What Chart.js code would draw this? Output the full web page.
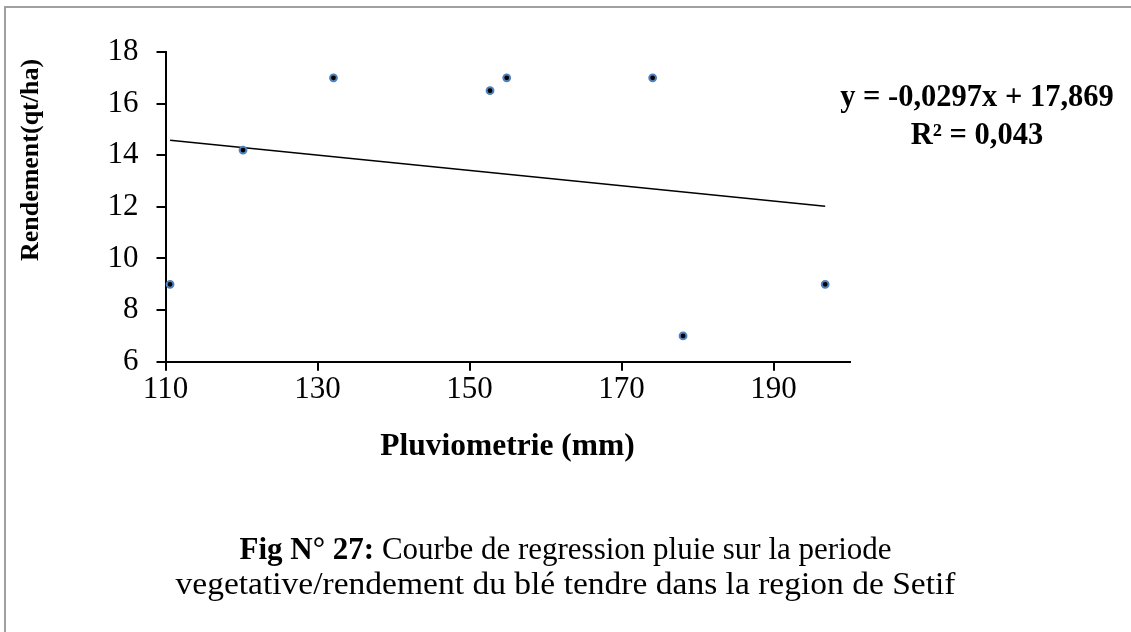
<!DOCTYPE html>
<html><head><meta charset="utf-8">
<script src="https://cdn.jsdelivr.net/npm/chart.js@4.4.0/dist/chart.umd.min.js"></script>
<style>html,body{margin:0;padding:0;background:#fff;overflow:hidden;} #wrap{width:1131px;height:632px;position:relative;}</style>
</head><body><div id="wrap"><canvas id="c" width="1131" height="632"></canvas></div>
<script>
const pluviometrie = [110.6, 120.2, 132.1, 152.7, 154.9, 174.1, 178.1, 196.8];
const rendement = [9, 14.2, 17, 16.5, 17, 17, 7, 9];
const trendX = [110.6, 196.8];
const trendY = [14.58, 12.02];
const xTicks = [110, 130, 150, 170, 190];
const yTicks = [6, 8, 10, 12, 14, 16, 18];
const xRange = [110, 200];
const yRange = [6, 18];
const equationLines = ['y = -0,0297x + 17,869', 'R² = 0,043'];
const captionBold = 'Fig N° 27:';
const captionLine1 = ' Courbe de regression pluie sur la periode';
const captionLine2 = 'vegetative/rendement du blé tendre dans la region de Setif';
const xTitle = 'Pluviometrie (mm)';
const yTitle = 'Rendement(qt/ha)';

const SERIF = '"Liberation Serif", "Times New Roman", serif';

const decorPlugin = {
  id: 'decor',
  afterDraw(chart) {
    const ctx = chart.ctx;
    ctx.save();
    // frame (top & left visible)
    ctx.strokeStyle = '#a0a0a0';
    ctx.lineWidth = 2;
    ctx.beginPath();
    ctx.moveTo(5, 640); ctx.lineTo(5, 7); ctx.lineTo(1140, 7);
    ctx.stroke();
    ctx.fillStyle = '#000';
    // y axis title
    ctx.save();
    ctx.translate(31, 160);
    ctx.rotate(-Math.PI / 2);
    ctx.font = 'bold 26px ' + SERIF;
    ctx.textAlign = 'center';
    ctx.textBaseline = 'middle';
    ctx.fillText(yTitle, 0, 0);
    ctx.restore();
    // equation
    ctx.font = 'bold 30.5px ' + SERIF;
    ctx.textAlign = 'center';
    ctx.textBaseline = 'alphabetic';
    ctx.fillText(equationLines[0], 977, 106);
    ctx.fillText(equationLines[1], 977, 144);
    // caption
    const cx = 565.5;
    const fs = 31;
    ctx.textAlign = 'left';
    ctx.font = 'bold ' + fs + 'px ' + SERIF;
    const wb = ctx.measureText(captionBold).width;
    ctx.font = fs + 'px ' + SERIF;
    const wr = ctx.measureText(captionLine1).width;
    const x0 = cx - (wb + wr) / 2;
    ctx.font = 'bold ' + fs + 'px ' + SERIF;
    ctx.fillText(captionBold, x0, 559);
    ctx.font = fs + 'px ' + SERIF;
    ctx.fillText(captionLine1, x0 + wb, 559);
    ctx.save();
    const w2 = ctx.measureText(captionLine2).width;
    const s2 = 780 / w2;
    ctx.translate(cx, 594);
    ctx.scale(s2, 1);
    ctx.textAlign = 'center';
    ctx.fillText(captionLine2, 0, 0);
    ctx.restore();
    ctx.restore();
  }
};

const tickFont = { family: SERIF, size: 31 };

new Chart(document.getElementById('c'), {
  type: 'scatter',
  data: {
    datasets: [
      {
        label: 'Rendement',
        data: pluviometrie.map((x, i) => ({ x: x, y: rendement[i] })),
        backgroundColor: '#000',
        borderColor: '#4F81BD',
        pointRadius: 3.4,
        pointBorderWidth: 2,
        clip: false,
        order: 1
      },
      {
        label: 'Trend',
        type: 'line',
        data: trendX.map((x, i) => ({ x: x, y: trendY[i] })),
        borderColor: '#000',
        borderWidth: 1.5,
        pointRadius: 0,
        fill: false,
        showLine: true,
        order: 2
      }
    ]
  },
  options: {
    responsive: false,
    animation: false,
    devicePixelRatio: 1,
    layout: { padding: { left: 0, top: 52, right: 281.5, bottom: 166.1 } },
    plugins: { legend: { display: false }, tooltip: { enabled: false } },
    scales: {
      x: {
        type: 'linear',
        min: xRange[0], max: xRange[1],
        afterBuildTicks: s => { s.ticks = xTicks.map(v => ({ value: v })); },
        afterFit: s => { s.height = 104.2; },
        grid: { drawOnChartArea: false, drawTicks: true, tickLength: 9, color: '#000', lineWidth: 2 },
        border: { display: true, color: '#000', width: 2 },
        ticks: { font: tickFont, color: '#000', padding: 1, maxRotation: 0, autoSkip: false },
        title: { display: true, text: xTitle, color: '#000', font: { family: SERIF, size: 31.5, weight: 'bold', lineHeight: 1.2 }, padding: { top: 0, bottom: 0 } }
      },
      y: {
        type: 'linear',
        min: yRange[0], max: yRange[1],
        afterBuildTicks: s => { s.ticks = yTicks.map(v => ({ value: v })); },
        afterFit: s => { s.width = 165.5; },
        grid: { drawOnChartArea: false, drawTicks: true, tickLength: 9, color: '#000', lineWidth: 2 },
        border: { display: true, color: '#000', width: 2 },
        ticks: { font: tickFont, color: '#000', padding: 18, autoSkip: false },
        title: { display: false, text: yTitle }
      }
    }
  },
  plugins: [decorPlugin]
});
</script>
</body></html>
